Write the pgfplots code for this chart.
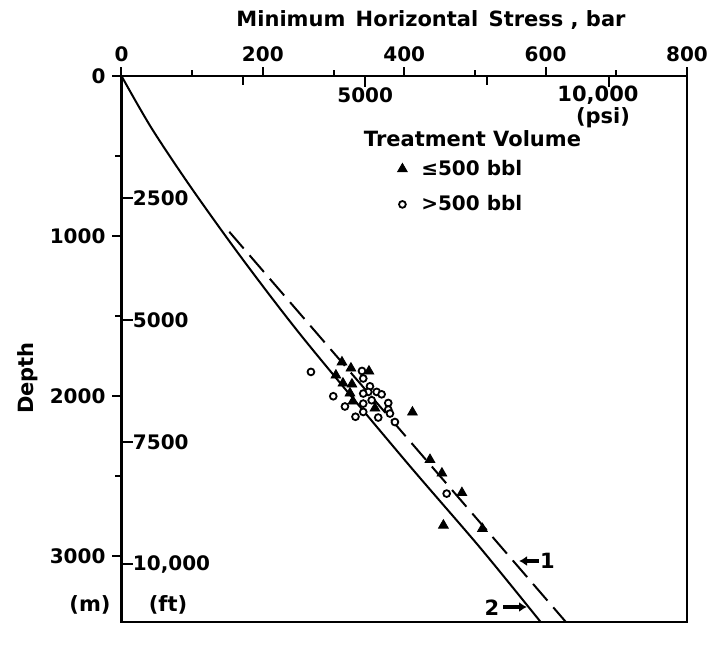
\documentclass[border=0pt]{standalone}
\usepackage{fontspec}
\setmainfont{DejaVu Sans}
\usepackage{pgfplots}
\pgfplotsset{compat=1.18}
\usetikzlibrary{arrows.meta}
\pgfplotsset{compactmark/.style={legend image code/.code={\draw[mark repeat=2,mark phase=2,##1] plot coordinates {(0cm,0cm) (0.12cm,0cm) (0.24cm,0cm)};}}}

\begin{document}
\begin{tikzpicture}[font=\bfseries\fontsize{10.5}{12.5}\selectfont]
\path[use as bounding box] (-60.75pt,-14pt) rectangle (292.75pt,311pt);

% secondary scales: psi (top, inside) and ft (left, inside)
\begin{axis}[
  at={(0,0)}, anchor=south west, scale only axis,
  width=282.75pt, height=273pt,
  xmin=0, xmax=11603, ymin=0, ymax=11187.7, y dir=reverse,
  axis line style={draw=none},
  tick align=inside,
  scaled x ticks=false, scaled y ticks=false,
  xtick={5000,10000}, minor xtick={2500,7500},
  xticklabels={5000,{}},
  ytick={2500,5000,7500,10000},
  yticklabels={2500,5000,7500,{10,000}},
  minor ytick={},
  xtick pos=right, xticklabel pos=right,
  ytick pos=left, yticklabel pos=left,
  major tick length=5.5pt, minor tick length=4.5pt,
  tick style={line width=1pt, black},
  xticklabel style={anchor=north, yshift=-2.2pt, font=\bfseries},
  yticklabel style={anchor=west, xshift=2.2pt, font=\bfseries},
]
\end{axis}

\begin{axis}[
  at={(0,0)}, anchor=south west, scale only axis,
  width=282.75pt, height=273pt,
  xmin=0, xmax=800, ymin=0, ymax=3410, y dir=reverse,
  axis line style={line width=1.4pt},
  tick align=outside,
  xtick={0,200,400,600,800}, minor xtick={100,300,500,700},
  ytick={0,1000,2000,3000}, minor ytick={500,1500,2500},
  xtick pos=right, xticklabel pos=right,
  ytick pos=left, yticklabel pos=left,
  major tick length=4.5pt, minor tick length=3pt,
  tick style={line width=1pt, black},
  /pgf/number format/assume math mode=true,
  /pgf/number format/1000 sep={},
  tick label style={font=\bfseries},
  xticklabel style={yshift=-1pt},
  clip=false,
  legend style={draw=none, fill=none, inner sep=0pt,
    nodes={inner sep=3.5pt},
    at={(axis description cs:0.4875,0.8599)}, anchor=north west,
    font=\bfseries, row sep=1.6pt, column sep=3.5pt},
  legend cell align=left,
]
\addplot[black, line width=1pt, smooth, forget plot] coordinates {
  (0,0) (42.7,327) (99.3,702) (172.3,1150) (259.5,1650) (401,2400) (507,2944) (593,3410)};
\addplot[black, line width=1pt, dash pattern=on 11pt off 4.5pt, forget plot] coordinates {
  (152.5,973) (628.7,3410)};

\addplot[only marks, mark=triangle*, mark size=2.8pt, black, compactmark]
  coordinates {
  (311.9,1787) (324.6,1825) (350.1,1844) (303.3,1869) (313.3,1919)
  (326.0,1925) (323.2,1981) (327.4,2031) (358.6,2075) (411.6,2100)
  (436.4,2396) (453.3,2481) (481.6,2603) (455.4,2806) (510.6,2827)};
\addlegendentry{≤500 bbl}

\addplot[only marks, mark=*, mark size=1.7pt, black, mark options={fill=white, line width=0.9pt}, compactmark]
  coordinates {
  (268.0,1848) (299.6,2000) (316.1,2064) (331.0,2128) (340.2,1842)
  (342.0,1889) (351.5,1938) (349.1,1973) (342.0,1983) (361.0,1973)
  (368.0,1988) (353.9,2025) (342.0,2046) (377.4,2042) (377.4,2083)
  (379.8,2108) (363.2,2133) (386.8,2161) (342.0,2098) (460.0,2608)};
\addlegendentry{>500 bbl}
\end{axis}

% texts and annotations
\node at (154.75pt,301pt) {Minimum \hspace{1.5pt}Horizontal \hspace{1.5pt}Stress , bar};
\node at (238.25pt,263.5pt) {10,000};
\node at (240.75pt,252pt) {(psi)};
\node at (175.5pt,241.5pt) {Treatment Volume};
\node at (-15.75pt,8.5pt) {(m)};
\node at (23.25pt,8.5pt) {(ft)};
\node[rotate=90] at (-46.75pt,122pt) {Depth};
\node at (213pt,30.5pt) {1};
\draw[line width=1.6pt, -{Latex[length=4pt,width=5pt]}] (208.5pt,30.5pt) -- (198.75pt,30.5pt);
\node at (185.25pt,7pt) {2};
\draw[line width=1.6pt, -{Latex[length=4pt,width=5pt]}] (190.75pt,7.5pt) -- (202.75pt,7.5pt);
\end{tikzpicture}
\end{document}
